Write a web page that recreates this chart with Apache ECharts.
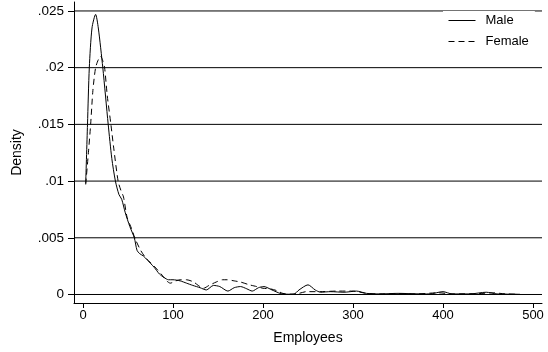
<!DOCTYPE html>
<html>
<head>
<meta charset="utf-8">
<script src="https://cdn.jsdelivr.net/npm/echarts@6/dist/echarts.min.js"></script>
<style>
  html, body { margin: 0; padding: 0; background: #fff; }
  #chart { width: 548px; height: 352px; }
</style>
</head>
<body>
<div id="chart"></div>
<script>
// Kernel density estimates of firm size by gender of owner
const maleX = [3, 5, 7, 10, 14, 17, 22, 28, 32, 36, 40, 43, 47, 52, 57, 60, 63, 67, 72, 79, 85, 90, 95, 100, 108, 115, 122, 130, 137, 145, 152, 161, 168, 175, 182, 188, 195, 201, 210, 219, 226, 234, 240, 250, 258, 264, 275, 290, 304, 315, 330, 350, 370, 385, 400, 410, 430, 448, 460, 475, 485];
const maleY = [0.0098, 0.015, 0.020, 0.0235, 0.0247, 0.0235, 0.020, 0.015, 0.012, 0.010, 0.0088, 0.0084, 0.0072, 0.006, 0.005, 0.0039, 0.0036, 0.0034, 0.003, 0.0024, 0.0018, 0.0015, 0.0013, 0.0013, 0.0012, 0.001, 0.0008, 0.0006, 0.0004, 0.0008, 0.0007, 0.0003, 0.0006, 0.0007, 0.0005, 0.0003, 0.0006, 0.0007, 0.0004, 0.0001, 0.00003, 0.00002, 0.0004, 0.00085, 0.0004, 0.0002, 0.00025, 0.0002, 0.0003, 0.0001, 0.00005, 0.0001, 0.00006, 0.00005, 0.00025, 0.00005, 0.00005, 0.0002, 0.00005, 0.00003, 0.00002];

const femaleX = [3, 6, 8.5, 11, 14, 17, 19.6, 22, 24, 27, 31, 34, 39, 42, 45, 49, 54, 58, 64, 70, 79, 88, 93, 97, 103, 108, 115, 123, 128, 134, 140, 148, 155, 160, 168, 175, 185, 193, 200, 208, 215, 222, 230, 240, 248, 263, 282, 300, 315, 330, 350, 370, 395, 410, 440, 455, 470, 485];
const femaleY = [0.0097, 0.0125, 0.015, 0.018, 0.020, 0.0207, 0.021, 0.0206, 0.020, 0.0175, 0.015, 0.013, 0.010, 0.0092, 0.0086, 0.0068, 0.0058, 0.0049, 0.0039, 0.0032, 0.0025, 0.0017, 0.0012, 0.001, 0.0012, 0.0013, 0.0013, 0.0011, 0.0008, 0.00055, 0.0008, 0.0011, 0.0013, 0.0013, 0.0012, 0.0011, 0.00085, 0.0007, 0.00055, 0.0005, 0.00035, 0.0001, 0.00003, 0.0001, 0.00025, 0.00025, 0.0003, 0.0003, 0.0001, 0.00005, 0.00008, 0.00005, 0.00015, 0.00005, 0.00008, 0.00015, 0.00005, 0.00002];

const xTicks = [0, 100, 200, 300, 400, 500];
const yTicks = [0, 0.005, 0.01, 0.015, 0.02, 0.025];

const X_MIN = -10, X_MAX = 510;
const Y_MIN = -0.00075, Y_MAX = 0.02579;

const pairs = (xs, ys) => xs.map((x, i) => [x, ys[i]]);
const fmtDensity = v => (v === 0 ? '0' : String(v).replace(/^0/, ''));
const FONT = 'Liberation Sans, Arial, Helvetica, sans-serif';

// horizontal rules at each labelled density value
const gridSeries = yTicks.map(v => ({
  name: 'rule' + v,
  type: 'line',
  data: [[X_MIN, v], [X_MAX, v]],
  silent: true,
  symbol: 'none',
  z: 1,
  lineStyle: { color: '#000', width: 1, type: 'solid' }
}));

const chart = echarts.init(document.getElementById('chart'), null, { renderer: 'canvas' });

chart.setOption({
  animation: false,
  backgroundColor: '#fff',
  textStyle: { fontFamily: FONT, color: '#000' },
  grid: { left: 74, top: 2, width: 468, height: 301, containLabel: false },
  legend: {
    data: ['Male', 'Female'],
    orient: 'vertical',
    left: 443,
    top: 11,
    padding: [3, 6, 5, 5],
    backgroundColor: '#fff',
    itemWidth: 27,
    itemHeight: 13,
    itemGap: 8,
    itemStyle: { opacity: 0 },
    lineStyle: { width: 1 },
    textStyle: { fontFamily: FONT, fontSize: 13, color: '#000', padding: [0, 0, 0, 5] }
  },
  xAxis: {
    type: 'value',
    min: X_MIN,
    max: X_MAX,
    name: 'Employees',
    nameLocation: 'middle',
    nameGap: 28,
    nameTextStyle: { fontFamily: FONT, fontSize: 14, color: '#000' },
    axisLine: { show: true, onZero: false, lineStyle: { color: '#000', width: 1 } },
    axisTick: { show: true, length: 5, customValues: xTicks, lineStyle: { color: '#000' } },
    axisLabel: { customValues: xTicks, margin: 6, fontFamily: FONT, fontSize: 13, color: '#000' },
    splitLine: { show: false }
  },
  yAxis: {
    type: 'value',
    min: Y_MIN,
    max: Y_MAX,
    name: 'Density',
    nameLocation: 'middle',
    nameGap: 50,
    nameRotate: 90,
    nameTextStyle: { fontFamily: FONT, fontSize: 14, color: '#000' },
    axisLine: { show: true, onZero: false, lineStyle: { color: '#000', width: 1 } },
    axisTick: { show: true, length: 6, customValues: yTicks, lineStyle: { color: '#000' } },
    axisLabel: { customValues: yTicks, margin: 10, formatter: fmtDensity, fontFamily: FONT, fontSize: 13.5, color: '#000' },
    splitLine: { show: false }
  },
  series: gridSeries.concat([
    {
      name: 'Male',
      type: 'line',
      data: pairs(maleX, maleY),
      showSymbol: false,
      symbol: 'none',
      smooth: 0.25,
      z: 3,
      lineStyle: { color: '#000', width: 1, type: 'solid' },
      itemStyle: { color: '#000' }
    },
    {
      name: 'Female',
      type: 'line',
      data: pairs(femaleX, femaleY),
      showSymbol: false,
      symbol: 'none',
      smooth: 0.25,
      z: 3,
      lineStyle: { color: '#000', width: 1, type: [6, 4] },
      itemStyle: { color: '#000' }
    }
  ])
});
</script>
</body>
</html>
